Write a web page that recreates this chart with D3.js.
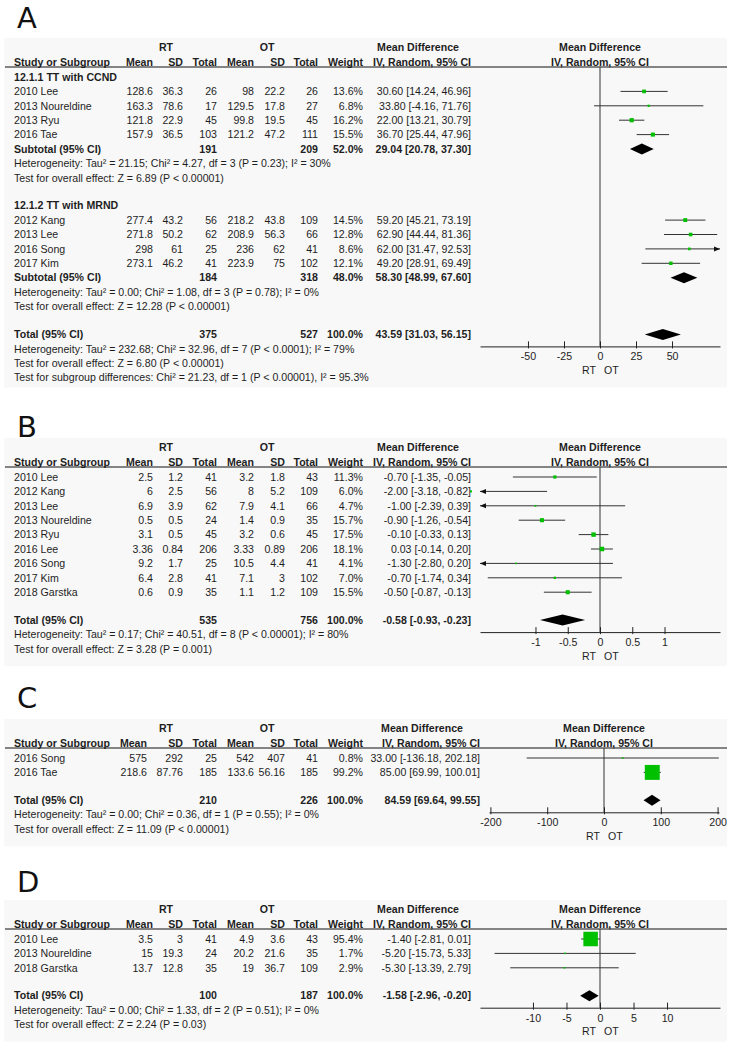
<!DOCTYPE html>
<html>
<head>
<meta charset="utf-8">
<script src="https://cdn.jsdelivr.net/npm/d3@7"></script>
<style>
  body { margin: 0; background: #fff; }
  svg { display: block; font-family: "Liberation Sans", Arial, sans-serif; }
</style>
</head>
<body>
<svg></svg>
<script>
"use strict";

// each study row: name, RT mean, RT SD, RT total, OT mean, OT SD, OT total, weight %, MD, CI low, CI high
// each summary row: RT total, OT total, weight %, MD, CI low, CI high

// ---- A ----
const groupA1 = "12.1.1 TT with CCND";
const studiesA1 = [
  ["2010 Lee", 128.6, 36.3, 26, 98, 22.2, 26, 13.6, 30.6, 14.24, 46.96],
  ["2013 Noureldine", 163.3, 78.6, 17, 129.5, 17.8, 27, 6.8, 33.8, -4.16, 71.76],
  ["2013 Ryu", 121.8, 22.9, 45, 99.8, 19.5, 45, 16.2, 22.0, 13.21, 30.79],
  ["2016 Tae", 157.9, 36.5, 103, 121.2, 47.2, 111, 15.5, 36.7, 25.44, 47.96],
];
const subtotalA1 = [191, 209, 52.0, 29.04, 20.78, 37.3];
const hetA1 = "Heterogeneity: Tau² = 21.15; Chi² = 4.27, df = 3 (P = 0.23); I² = 30%";
const testA1 = "Test for overall effect: Z = 6.89 (P < 0.00001)";

const groupA2 = "12.1.2 TT with MRND";
const studiesA2 = [
  ["2012 Kang", 277.4, 43.2, 56, 218.2, 43.8, 109, 14.5, 59.2, 45.21, 73.19],
  ["2013 Lee", 271.8, 50.2, 62, 208.9, 56.3, 66, 12.8, 62.9, 44.44, 81.36],
  ["2016 Song", 298, 61, 25, 236, 62, 41, 8.6, 62.0, 31.47, 92.53],
  ["2017 Kim", 273.1, 46.2, 41, 223.9, 75, 102, 12.1, 49.2, 28.91, 69.49],
];
const subtotalA2 = [184, 318, 48.0, 58.3, 48.99, 67.6];
const hetA2 = "Heterogeneity: Tau² = 0.00; Chi² = 1.08, df = 3 (P = 0.78); I² = 0%";
const testA2 = "Test for overall effect: Z = 12.28 (P < 0.00001)";

const totalA = [375, 527, 100.0, 43.59, 31.03, 56.15];
const hetA = "Heterogeneity: Tau² = 232.68; Chi² = 32.96, df = 7 (P < 0.0001); I² = 79%";
const testA = "Test for overall effect: Z = 6.80 (P < 0.00001)";
const subgroupA = "Test for subgroup differences: Chi² = 21.23, df = 1 (P < 0.00001), I² = 95.3%";
const ticksA = [-50, -25, 0, 25, 50];

// ---- B ----
const studiesB = [
  ["2010 Lee", 2.5, 1.2, 41, 3.2, 1.8, 43, 11.3, -0.7, -1.35, -0.05],
  ["2012 Kang", 6, 2.5, 56, 8, 5.2, 109, 6.0, -2.0, -3.18, -0.82],
  ["2013 Lee", 6.9, 3.9, 62, 7.9, 4.1, 66, 4.7, -1.0, -2.39, 0.39],
  ["2013 Noureldine", 0.5, 0.5, 24, 1.4, 0.9, 35, 15.7, -0.9, -1.26, -0.54],
  ["2013 Ryu", 3.1, 0.5, 45, 3.2, 0.6, 45, 17.5, -0.1, -0.33, 0.13],
  ["2016 Lee", 3.36, 0.84, 206, 3.33, 0.89, 206, 18.1, 0.03, -0.14, 0.2],
  ["2016 Song", 9.2, 1.7, 25, 10.5, 4.4, 41, 4.1, -1.3, -2.8, 0.2],
  ["2017 Kim", 6.4, 2.8, 41, 7.1, 3, 102, 7.0, -0.7, -1.74, 0.34],
  ["2018 Garstka", 0.6, 0.9, 35, 1.1, 1.2, 109, 15.5, -0.5, -0.87, -0.13],
];
const totalB = [535, 756, 100.0, -0.58, -0.93, -0.23];
const hetB = "Heterogeneity: Tau² = 0.17; Chi² = 40.51, df = 8 (P < 0.00001); I² = 80%";
const testB = "Test for overall effect: Z = 3.28 (P = 0.001)";
const ticksB = [-1, -0.5, 0, 0.5, 1];

// ---- C ----
const studiesC = [
  ["2016 Song", 575, 292, 25, 542, 407, 41, 0.8, 33.0, -136.18, 202.18],
  ["2016 Tae", 218.6, 87.76, 185, 133.6, 56.16, 185, 99.2, 85.0, 69.99, 100.01],
];
const totalC = [210, 226, 100.0, 84.59, 69.64, 99.55];
const hetC = "Heterogeneity: Tau² = 0.00; Chi² = 0.36, df = 1 (P = 0.55); I² = 0%";
const testC = "Test for overall effect: Z = 11.09 (P < 0.00001)";
const ticksC = [-200, -100, 0, 100, 200];

// ---- D ----
const studiesD = [
  ["2010 Lee", 3.5, 3, 41, 4.9, 3.6, 43, 95.4, -1.4, -2.81, 0.01],
  ["2013 Noureldine", 15, 19.3, 24, 20.2, 21.6, 35, 1.7, -5.2, -15.73, 5.33],
  ["2018 Garstka", 13.7, 12.8, 35, 19, 36.7, 109, 2.9, -5.3, -13.39, 2.79],
];
const totalD = [100, 187, 100.0, -1.58, -2.96, -0.2];
const hetD = "Heterogeneity: Tau² = 0.00; Chi² = 1.33, df = 2 (P = 0.51); I² = 0%";
const testD = "Test for overall effect: Z = 2.24 (P = 0.03)";
const ticksD = [-10, -5, 0, 5, 10];

// ---- layout ----
const width = 733;
const height = 1049;
const pitch = 14.4;
const gap = 13.5;
const fontSize = 10.6;
const ink = "#1e1e1e";
const green = "#00c000";

const colsStd = { name: 14, m1: 153, s1: 183, n1: 217, m2: 254, s2: 285, n2: 318, w: 363, md: 471, mdHead: 418, rt: 166, ot: 267 };
const colsC = Object.assign({}, colsStd, { m1: 147, md: 480, mdHead: 422 });

const studyRows = (list) => list.map((d) => ({ kind: "study", d }));

const panels = [
  {
    letter: "A", letterY: 28, lineY: 67, range: [480, 720], domain: [-83.3, 83.3], ticks: ticksA, cols: colsStd,
    rows: [
      { kind: "group", text: groupA1 }, ...studyRows(studiesA1),
      { kind: "sum", label: "Subtotal (95% CI)", d: subtotalA1 },
      { kind: "note", text: hetA1 }, { kind: "note", text: testA1 }, { kind: "gap" },
      { kind: "group", text: groupA2 }, ...studyRows(studiesA2),
      { kind: "sum", label: "Subtotal (95% CI)", d: subtotalA2 },
      { kind: "note", text: hetA2 }, { kind: "note", text: testA2 }, { kind: "gap" },
      { kind: "sum", label: "Total (95% CI)", d: totalA, total: true },
      { kind: "note", text: hetA }, { kind: "note", text: testA }, { kind: "note", text: subgroupA },
    ],
  },
  {
    letter: "B", letterY: 437, lineY: 467, range: [480, 720], domain: [-1.86, 1.86], ticks: ticksB, cols: colsStd,
    rows: [
      ...studyRows(studiesB), { kind: "gap" },
      { kind: "sum", label: "Total (95% CI)", d: totalB, total: true },
      { kind: "note", text: hetB }, { kind: "note", text: testB },
    ],
  },
  {
    letter: "C", letterY: 708, lineY: 748, range: [489, 719], domain: [-202.5, 202.5], ticks: ticksC, cols: colsC,
    rows: [
      ...studyRows(studiesC), { kind: "gap" },
      { kind: "sum", label: "Total (95% CI)", d: totalC, total: true },
      { kind: "note", text: hetC }, { kind: "note", text: testC },
    ],
  },
  {
    letter: "D", letterY: 892, lineY: 929, range: [480, 720], domain: [-17.9, 17.9], ticks: ticksD, cols: colsStd,
    rows: [
      ...studyRows(studiesD), { kind: "gap" },
      { kind: "sum", label: "Total (95% CI)", d: totalD, total: true },
      { kind: "note", text: hetD }, { kind: "note", text: testD },
    ],
  },
];

const svg = d3.select("svg").attr("width", width).attr("height", height);
svg.append("rect").attr("width", width).attr("height", height).attr("fill", "#fff");

const sizeScale = d3.scalePow().exponent(0.7).domain([0, 100]).range([0, 15]);
const f2 = (v) => v.toFixed(2);
const ciText = (md, lo, hi) => `${f2(md)} [${f2(lo)}, ${f2(hi)}]`;

const label = (g, x, y, text, anchor, bold) =>
  g.append("text")
    .attr("x", x).attr("y", y).attr("dy", "0.35em")
    .attr("text-anchor", anchor || "start")
    .attr("font-size", fontSize)
    .attr("font-weight", bold ? "bold" : "normal")
    .attr("fill", ink)
    .text(text);

const drawPanel = (p) => {
  const c = p.cols;
  const x = d3.scaleLinear().domain(p.domain).range(p.range);

  // row positions
  let cur = p.lineY + 10;
  let axisY = 0;
  p.rows.forEach((r) => {
    if (r.kind === "gap") { cur += gap; return; }
    r.y = cur;
    if (r.total) axisY = cur + 12;
    cur += pitch;
  });
  const lastY = cur - pitch;
  const top = p.lineY - 29;
  const bottom = Math.max(lastY, axisY + 24) + 10;

  svg.append("rect")
    .attr("x", 4).attr("y", top).attr("width", 723).attr("height", bottom - top)
    .attr("fill", "#f8f8f8");

  const g = svg.append("g");

  g.append("text")
    .attr("x", 17).attr("y", p.letterY)
    .attr("font-family", "'DejaVu Sans', sans-serif")
    .attr("font-size", 29).attr("fill", "#111")
    .text(p.letter);

  // headers
  const h1 = p.lineY - 19.5;
  const h2 = p.lineY - 5;
  label(g, c.rt, h1, "RT", "middle", true);
  label(g, c.ot, h1, "OT", "middle", true);
  label(g, c.mdHead, h1, "Mean Difference", "middle", true);
  label(g, x(0), h1, "Mean Difference", "middle", true);
  label(g, c.name, h2, "Study or Subgroup", "start", true);
  label(g, c.m1, h2, "Mean", "end", true);
  label(g, c.s1, h2, "SD", "end", true);
  label(g, c.n1, h2, "Total", "end", true);
  label(g, c.m2, h2, "Mean", "end", true);
  label(g, c.s2, h2, "SD", "end", true);
  label(g, c.n2, h2, "Total", "end", true);
  label(g, c.w, h2, "Weight", "end", true);
  label(g, c.md, h2, "IV, Random, 95% CI", "end", true);
  label(g, x(0), h2, "IV, Random, 95% CI", "middle", true);

  g.append("line")
    .attr("x1", 5).attr("x2", 727).attr("y1", p.lineY).attr("y2", p.lineY)
    .attr("stroke", "#111").attr("stroke-width", 1.2);

  // zero line
  g.append("line")
    .attr("x1", x(0)).attr("x2", x(0)).attr("y1", p.lineY).attr("y2", axisY)
    .attr("stroke", "#333").attr("stroke-width", 1);

  const [d0, d1] = p.domain;
  const marks = svg.append("g");

  p.rows.forEach((r) => {
    if (r.kind === "gap") return;
    if (r.kind === "group") { label(g, c.name, r.y, r.text, "start", true); return; }
    if (r.kind === "note") { label(g, c.name, r.y, r.text, "start", false); return; }

    if (r.kind === "study") {
      const [name, m1, s1, n1, m2, s2, n2, w, md, lo, hi] = r.d;
      label(g, c.name, r.y, name);
      label(g, c.m1, r.y, String(m1), "end");
      label(g, c.s1, r.y, String(s1), "end");
      label(g, c.n1, r.y, String(n1), "end");
      label(g, c.m2, r.y, String(m2), "end");
      label(g, c.s2, r.y, String(s2), "end");
      label(g, c.n2, r.y, String(n2), "end");
      label(g, c.w, r.y, w.toFixed(1) + "%", "end");
      label(g, c.md, r.y, ciText(md, lo, hi), "end");

      const xl = x(Math.max(lo, d0));
      const xr = x(Math.min(hi, d1));
      marks.append("line")
        .attr("x1", xl).attr("x2", xr).attr("y1", r.y).attr("y2", r.y)
        .attr("stroke", "#333").attr("stroke-width", 1);
      if (lo < d0) {
        marks.append("path")
          .attr("d", `M${xl},${r.y}L${xl + 6},${r.y - 2.5}L${xl + 6},${r.y + 2.5}Z`)
          .attr("fill", "#111");
      }
      if (hi > d1) {
        marks.append("path")
          .attr("d", `M${xr},${r.y}L${xr - 6},${r.y - 2.5}L${xr - 6},${r.y + 2.5}Z`)
          .attr("fill", "#111");
      }
      const s = Math.max(1.6, sizeScale(w));
      marks.append("rect")
        .attr("x", x(md) - s / 2).attr("y", r.y - s / 2)
        .attr("width", s).attr("height", s)
        .attr("fill", green);
      return;
    }

    // subtotal / total
    const [n1, n2, w, md, lo, hi] = r.d;
    label(g, c.name, r.y, r.label, "start", true);
    label(g, c.n1, r.y, String(n1), "end", true);
    label(g, c.n2, r.y, String(n2), "end", true);
    label(g, c.w, r.y, w.toFixed(1) + "%", "end", true);
    label(g, c.md, r.y, ciText(md, lo, hi), "end", true);
    marks.append("path")
      .attr("d", `M${x(lo)},${r.y}L${x(md)},${r.y - 5.5}L${x(hi)},${r.y}L${x(md)},${r.y + 5.5}Z`)
      .attr("fill", "#000");
  });

  // axis
  const axis = d3.axisBottom(x)
    .tickValues(p.ticks)
    .tickFormat((d) => String(d))
    .tickSizeInner(-5)
    .tickSizeOuter(0)
    .tickPadding(6.5);

  const ax = svg.append("g")
    .attr("transform", `translate(0,${axisY})`)
    .call(axis);
  ax.select(".domain").attr("stroke", "#222");
  ax.selectAll(".tick line").attr("stroke", "#222").attr("y1", 2).attr("y2", -5);
  ax.selectAll(".tick text")
    .attr("fill", ink)
    .attr("font-size", fontSize)
    .attr("font-family", "'Liberation Sans', Arial, sans-serif");

  label(g, x(0) - 4, axisY + 24, "RT", "end");
  label(g, x(0) + 4, axisY + 24, "OT", "start");
};

panels.forEach(drawPanel);
</script>
</body>
</html>
